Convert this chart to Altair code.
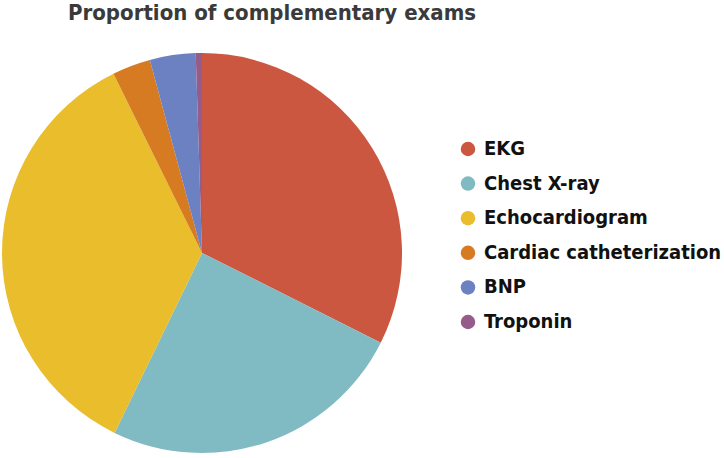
import altair as alt
import pandas as pd

exams = ["EKG", "Chest X-ray", "Echocardiogram", "Cardiac catheterization", "BNP", "Troponin"]
shares = [32.4, 24.8, 35.5, 3.1, 3.7, 0.5]
colors = ["#CB5741", "#80BBC3", "#E9BD2B", "#D77B22", "#6B81C1", "#955B8B"]

df = pd.DataFrame({"exam": exams, "share": shares, "idx": list(range(len(exams)))})

FONT = "DejaVu Sans Condensed, Liberation Sans, sans-serif"

chart = alt.Chart(df).mark_arc(radius=200).encode(
    theta=alt.Theta("share:Q", stack=True),
    order=alt.Order("idx:Q"),
    color=alt.Color(
        "exam:N",
        scale=alt.Scale(domain=exams, range=colors),
        legend=alt.Legend(
            title=None,
            orient="none",
            legendX=458,
            legendY=101,
            symbolType="circle",
            symbolSize=210,
            symbolStrokeWidth=0,
            labelFontSize=20,
            labelFont=FONT,
            labelFontWeight="bold",
            labelColor="#111111",
            rowPadding=14.6,
            labelOffset=6,
            labelLimit=400,
        ),
    ),
    x=alt.value(202),
    y=alt.value(215),
).properties(
    width=724,
    height=420,
    padding={"left": 0, "top": 38, "right": 0, "bottom": 0},
    autosize=alt.AutoSizeParams(type="none"),
    title=alt.TitleParams(
        "Proportion of complementary exams",
        anchor="start",
        dx=68,
        fontSize=22,
        font=FONT,
        fontWeight="bold",
        color="#3a3a3a",
        offset=13,
    ),
).configure_view(stroke=None)

chart.save("out.html", embed_options={"renderer": "svg", "actions": False})
